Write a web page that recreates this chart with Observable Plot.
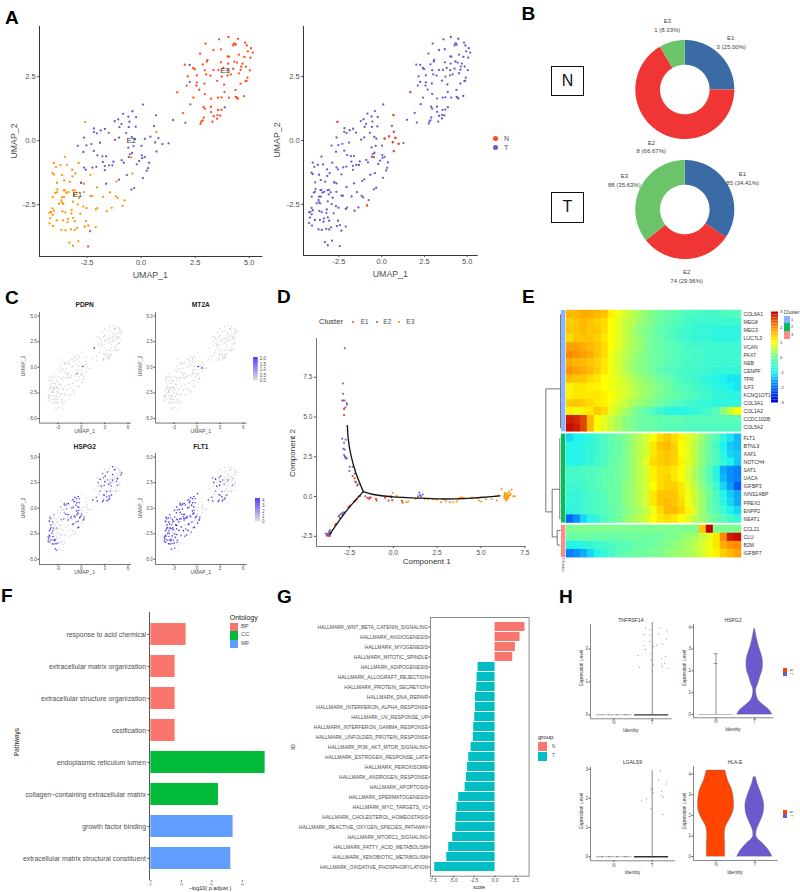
<!DOCTYPE html>
<html><head><meta charset="utf-8">
<script src="https://cdn.jsdelivr.net/npm/d3@7"></script>
<script src="https://cdn.jsdelivr.net/npm/@observablehq/plot@0.6"></script>
<style>
html,body{margin:0;padding:0;background:#fff}
#page{position:relative;width:800px;height:892px;overflow:hidden;font-family:"Liberation Sans",Arial,sans-serif}
.t{position:absolute;white-space:nowrap;line-height:1}
</style></head><body><div id="page"></div>
<script>
// ---------- DATA ----------
const umapE3=[[4.04,4.05],[4.48,3.98],[3.61,3.96],[2.98,3.79],[4.81,3.83],[4.89,3.72],[4.29,3.79],[4.35,3.79],[4.26,3.72],[4.38,3.75],[5.09,3.61],[4.94,3.49],[5.17,3.44],[3.35,3.54],[3.69,3.57],[2.73,3.40],[4.52,3.36],[4.78,3.27],[4.01,3.29],[4.07,3.28],[5.06,3.24],[3.07,3.15],[3.04,3.09],[2.85,2.98],[2.02,2.97],[2.41,2.84],[2.48,2.79],[3.69,3.06],[4.03,3.01],[4.31,3.09],[4.44,3.05],[4.69,3.01],[3.35,2.76],[2.95,2.75],[3.58,2.76],[3.80,2.84],[4.00,2.75],[4.26,2.81],[4.63,2.89],[4.60,2.77],[4.85,2.89],[5.03,2.75],[2.16,2.51],[2.58,2.55],[3.01,2.59],[3.21,2.54],[3.73,2.50],[4.00,2.55],[4.15,2.59],[4.52,2.63],[4.92,2.46],[4.88,2.34],[3.52,2.34],[2.58,2.27],[2.11,2.15],[2.56,2.15],[2.69,1.99],[2.93,2.23],[3.84,2.19],[4.60,2.23],[4.83,2.32],[1.67,1.89],[3.86,1.90],[4.37,1.98],[4.77,1.74],[2.42,1.68],[2.95,1.82],[3.56,1.68],[3.72,1.69],[4.06,1.68],[4.38,1.71],[4.43,1.68],[4.48,1.64],[3.24,1.64],[2.89,1.32],[3.23,1.32],[2.95,1.25],[3.56,1.20],[3.72,1.21],[3.24,1.12],[3.36,0.96],[3.53,1.00],[3.66,0.98],[1.93,1.08],[2.90,0.90],[2.85,0.79],[2.78,0.74],[2.75,0.66],[3.30,0.74],[3.52,0.86],[-2.36,-3.53],[-2.45,-4.13]];
const umapE2=[[2.25,2.96],[2.25,2.29],[2.28,1.42],[3.87,1.30],[2.05,0.70],[1.48,0.81],[0.09,1.41],[-0.40,1.15],[-0.83,1.05],[-0.59,0.94],[-0.23,0.92],[-1.06,0.83],[-1.22,0.76],[-0.91,0.65],[-0.54,0.74],[-0.57,0.53],[-1.00,0.53],[-0.25,0.55],[0.60,0.57],[0.69,0.99],[-2.18,0.48],[-2.19,0.34],[-2.05,0.29],[-1.87,0.40],[-1.67,0.46],[-1.50,0.31],[-0.69,0.30],[-2.64,0.12],[-1.02,0.12],[-1.20,0.03],[-0.43,0.14],[-0.31,0.07],[0.43,0.16],[0.17,0.07],[0.80,0.10],[0.65,-0.07],[1.27,-0.10],[0.99,-0.13],[-2.30,-0.13],[-2.53,-0.18],[-2.93,-0.20],[-1.90,-0.08],[-0.59,-0.27],[0.02,-0.20],[-2.67,-0.44],[-2.19,-0.40],[-2.02,-0.57],[-1.79,-0.61],[-1.62,-0.61],[-0.35,-0.21],[-0.42,-0.48],[-0.52,-0.53],[-0.57,-0.64],[0.03,-0.57],[0.17,-0.64],[0.05,-0.68],[0.71,-0.42],[-0.09,-0.79],[-0.20,-0.92],[0.37,-0.86],[-0.90,-0.76],[-0.80,-0.86],[-1.28,-0.82],[-1.77,-0.83],[-1.33,-0.96],[-1.48,-0.96],[-2.07,-1.02],[-1.68,-0.99],[-1.68,-1.15],[-2.25,-1.05],[-2.64,-1.05],[-2.56,-1.13],[0.32,-1.07],[0.26,-1.17],[-0.66,-1.34],[-1.02,-1.52],[0.08,-1.46],[-2.78,-1.65],[-1.62,-1.68],[-0.32,-1.85],[-0.45,-1.91]];
const umapE1=[[-2.59,0.73],[0.71,0.34],[-3.52,-0.63],[-4.03,-0.87],[-3.73,-0.95],[-3.43,-0.94],[-2.89,-0.87],[-3.94,-1.03],[-3.19,-1.13],[-4.10,-1.26],[-4.03,-1.32],[-3.66,-1.34],[-3.04,-1.28],[-3.18,-1.39],[-2.35,-1.33],[-3.56,-1.55],[-3.89,-1.64],[-3.30,-1.61],[-2.76,-1.63],[-2.64,-1.68],[-0.46,-0.65],[-0.40,-1.28],[-1.14,-1.59],[-2.05,-1.82],[-3.87,-1.90],[-3.58,-1.94],[-3.97,-2.04],[-3.90,-2.01],[-3.52,-1.94],[-3.16,-1.94],[-3.07,-1.94],[-3.36,-2.01],[-2.65,-2.01],[-3.46,-2.04],[-3.10,-2.11],[-2.98,-2.03],[-4.09,-2.20],[-3.66,-2.20],[-3.56,-2.20],[-2.35,-2.16],[-2.27,-2.16],[-1.76,-2.19],[-1.44,-2.02],[-1.17,-2.17],[-1.08,-2.23],[-0.76,-2.33],[-3.69,-2.33],[-3.80,-2.46],[-3.66,-2.42],[-3.60,-2.46],[-2.87,-2.24],[-2.92,-2.49],[-3.15,-2.38],[-2.67,-2.57],[-2.52,-2.63],[-2.10,-2.68],[-2.02,-2.63],[-1.36,-2.62],[-1.59,-2.75],[-0.86,-2.54],[-4.10,-2.64],[-4.17,-2.79],[-4.24,-2.81],[-4.03,-2.73],[-3.64,-2.76],[-3.50,-2.80],[-3.21,-2.70],[-3.23,-2.84],[-2.81,-2.85],[-4.09,-2.89],[-4.20,-3.02],[-3.90,-3.11],[-3.61,-3.11],[-3.38,-3.05],[-3.15,-3.01],[-4.24,-3.23],[-4.07,-3.33],[-3.40,-3.18],[-3.07,-3.14],[-2.55,-3.14],[-3.69,-3.48],[-3.50,-3.50],[-3.24,-3.46],[-2.96,-3.40],[-3.07,-3.48],[-2.61,-3.35],[-2.44,-3.31],[-2.10,-3.37],[-3.32,-3.98],[-2.90,-3.92],[-3.15,-4.10]];
const umapNormal=[[1.67,1.89],[-2.59,0.73],[0.69,0.99],[0.17,0.07],[0.43,0.16],[0.71,0.34],[0.80,0.10],[0.65,-0.07],[0.99,-0.13],[0.71,-0.42],[-0.46,-0.65],[-0.86,-2.54]];
const clusterCentres=[["E1",-2.95,-2.11],["E2",-0.45,0],["E3",3.89,2.75]];

const donutColors=["#3a6ba5","#f03535","#6cc46a"];
const donutNames=["E1","E2","E3"];
const donutN=[3,8,1];
const donutT=[85,74,88];

const exprPDPN=[[1.67,1.89,2],[0.17,0.07,1.7],[-0.57,-0.64,0.8]];
const exprMT2A=[[0.17,0.07,2],[0.65,-0.07,2]];
const exprHSPG2=[[-4.03,-0.87,2],[-3.94,-1.03,2],[-3.52,-0.63,1],[-4.10,-1.26,3],[-3.66,-1.34,2],[-3.89,-1.64,3],[-3.87,-1.9,2],[-3.97,-2.04,3],[-3.58,-1.94,2],[-4.09,-2.2,3],[-3.66,-2.2,2],[-3.8,-2.46,2],[-4.1,-2.64,3],[-4.24,-2.81,3],[-4.03,-2.73,2],[-3.64,-2.76,3],[-4.2,-3.02,2],[-3.9,-3.11,3],[-3.61,-3.11,2],[-3.38,-3.05,3],[-4.24,-3.23,3],[-4.07,-3.33,2],[-3.4,-3.18,3],[-3.69,-3.48,3],[-3.5,-3.5,2],[-3.24,-3.46,3],[-2.96,-3.4,2],[-3.15,-4.10,2],[-3.32,-3.98,3],[-3.15,-1.94,1],[-2.18,0.48,2],[-2.05,0.29,2],[-1.87,0.4,2],[-1.67,0.46,3],[-2.19,0.34,2],[-2.64,0.12,1],[-1.06,0.83,3],[-0.83,1.05,3],[-0.59,0.94,2],[-0.4,1.15,3],[-0.23,0.92,2],[-0.91,0.65,3],[-0.57,0.53,3],[-0.25,0.55,2],[-0.69,0.3,2],[-0.43,0.14,3],[-1.02,0.12,2],[-1.2,0.03,3],[-0.31,0.07,2],[-0.59,-0.27,3],[-0.35,-0.21,2],[-1.9,-0.08,2],[-2.19,-0.4,1],[-2.02,-0.57,3],[-1.79,-0.61,2],[-1.62,-0.61,2],[-0.42,-0.48,3],[-0.57,-0.64,3],[-0.9,-0.76,3],[-1.28,-0.82,2],[-0.8,-0.86,3],[0.03,-0.57,2],[-0.09,-0.79,3],[-0.2,-0.92,3],[0.37,-0.86,2],[0.32,-1.07,3],[0.26,-1.17,2],[-0.66,-1.34,2],[-1.02,-1.52,3],[-1.33,-0.96,2],[-1.68,-1.15,3],[-2.25,-1.05,2],[-2.56,-1.13,2],[-0.32,-1.85,2],[-0.45,-1.91,3],[-0.4,-1.28,3],[-1.14,-1.59,2],[1.48,0.81,3],[2.05,0.7,3],[1.93,1.08,2],[2.75,0.66,3],[2.85,0.79,2],[3.3,0.74,3],[3.52,0.86,3],[3.66,0.98,2],[2.89,1.32,3],[3.24,1.12,2],[3.56,1.2,3],[2.95,1.25,2],[3.87,1.3,3],[2.42,1.68,2],[3.24,1.64,3],[3.72,1.69,2],[2.56,2.15,3],[2.93,2.23,2],[3.52,2.34,3],[3.84,2.19,2],[2.16,2.51,2],[3.01,2.59,3],[3.73,2.5,2],[2.41,2.84,3],[3.35,2.76,2],[4.0,2.75,3],[2.85,2.98,2],[3.07,3.15,3],[4.01,3.29,3],[3.35,3.54,3],[4.29,3.79,3],[2.73,3.4,2],[4.04,4.05,3],[5.17,3.44,3],[5.06,3.24,2],[4.63,2.89,3],[4.52,2.63,2],[4.6,2.23,2]];
const exprFLT1=[[-3.52,-0.63,2],[-4.03,-0.87,3],[-3.73,-0.95,3],[-3.43,-0.94,2],[-2.89,-0.87,2],[-3.94,-1.03,3],[-3.19,-1.13,3],[-4.1,-1.26,3],[-4.03,-1.32,2],[-3.66,-1.34,3],[-3.04,-1.28,3],[-3.18,-1.39,2],[-2.35,-1.33,3],[-3.56,-1.55,3],[-3.89,-1.64,3],[-3.3,-1.61,2],[-2.76,-1.63,3],[-2.64,-1.68,3],[-2.05,-1.82,3],[-3.87,-1.9,3],[-3.58,-1.94,2],[-3.97,-2.04,3],[-3.52,-1.94,3],[-3.16,-1.94,3],[-3.36,-2.01,2],[-2.65,-2.01,3],[-3.1,-2.11,3],[-4.09,-2.2,3],[-3.66,-2.2,2],[-2.35,-2.16,3],[-1.76,-2.19,3],[-1.44,-2.02,2],[-1.17,-2.17,3],[-0.76,-2.33,2],[-3.8,-2.46,3],[-3.6,-2.46,2],[-2.92,-2.49,3],[-2.67,-2.57,3],[-2.1,-2.68,2],[-1.36,-2.62,3],[-1.59,-2.75,2],[-4.1,-2.64,3],[-4.24,-2.81,3],[-4.03,-2.73,3],[-3.64,-2.76,2],[-3.21,-2.7,3],[-2.81,-2.85,3],[-4.2,-3.02,3],[-3.9,-3.11,3],[-3.61,-3.11,2],[-3.38,-3.05,3],[-4.24,-3.23,3],[-4.07,-3.33,3],[-3.4,-3.18,3],[-3.07,-3.14,2],[-2.55,-3.14,3],[-3.69,-3.48,3],[-3.5,-3.5,3],[-3.24,-3.46,2],[-2.96,-3.4,3],[-2.61,-3.35,2],[-3.32,-3.98,3],[-2.9,-3.92,2],[-2.18,0.48,3],[-2.19,0.34,3],[-2.05,0.29,2],[-1.87,0.4,3],[-1.67,0.46,3],[-1.5,0.31,2],[-2.64,0.12,3],[-2.3,-0.13,3],[-2.53,-0.18,2],[-2.93,-0.2,3],[-1.9,-0.08,3],[-2.67,-0.44,3],[-2.19,-0.4,3],[-2.02,-0.57,2],[-1.79,-0.61,3],[-1.62,-0.61,3],[-1.77,-0.83,2],[-2.07,-1.02,3],[-1.68,-0.99,3],[-1.68,-1.15,3],[-2.25,-1.05,3],[-2.64,-1.05,2],[-2.56,-1.13,3],[-1.33,-0.96,3],[-1.48,-0.96,2],[-1.28,-0.82,3],[-1.2,0.03,3],[-1.02,0.12,2],[-0.69,0.3,3],[-1.0,0.53,3],[-1.06,0.83,3],[-1.22,0.76,2],[-0.83,1.05,3],[-0.59,0.94,3],[-0.4,1.15,3],[0.09,1.41,3],[-0.23,0.92,2],[-0.91,0.65,3],[-0.57,0.53,3],[-0.25,0.55,2],[-0.43,0.14,3],[-0.59,-0.27,3],[-0.35,-0.21,2],[-0.42,-0.48,3],[-0.52,-0.53,3],[-0.9,-0.76,3],[-0.8,-0.86,2],[-0.09,-0.79,3],[-0.2,-0.92,3],[0.37,-0.86,3],[0.32,-1.07,2],[0.26,-1.17,3],[-0.66,-1.34,3],[-1.02,-1.52,3],[0.08,-1.46,3],[-0.32,-1.85,2],[-0.45,-1.91,3],[-1.14,-1.59,3],[1.48,0.81,3],[2.05,0.7,3],[1.93,1.08,3],[2.75,0.66,3],[2.85,0.79,2],[3.3,0.74,3],[3.52,0.86,2],[3.66,0.98,3],[2.89,1.32,3],[3.24,1.12,3],[2.95,1.25,2],[3.87,1.3,3],[2.42,1.68,2],[3.24,1.64,2],[2.56,2.15,3],[2.93,2.23,3],[3.52,2.34,2],[2.16,2.51,3],[3.01,2.59,3],[2.41,2.84,3],[2.85,2.98,2],[3.07,3.15,3],[2.02,2.97,2],[3.35,2.76,2],[4.6,2.23,2],[4.0,2.75,2]];

const ddrmE2=[[-2.77,9.33],[-2.87,7.11],[-2.87,6.46],[-2.92,6.04],[-2.85,6.04],[-2.66,5.89],[-2.64,5.77],[-2.74,5.60],[-2.62,4.44],[-2.91,3.63],[-2.72,3.58],[-2.81,3.38],[-2.85,3.00],[-2.77,2.96],[-2.81,2.62],[-2.77,2.54],[-2.72,2.45],[-2.66,2.41],[-2.70,2.37],[-2.75,2.47],[-2.49,1.87],[-2.32,1.87],[-2.51,1.61],[-2.2,1.43],[-2.13,0.90],[-2.03,0.78],[-1.6,0.02],[-1.37,-0.06],[1.48,0.25],[1.52,0.10],[1.67,0.13],[1.42,0.02],[1.58,0.02],[-0.13,0.02],[-0.11,-0.04],[-2.85,-1.01],[-2.92,-1.05],[-3.0,-1.11],[-3.08,-1.19],[-3.13,-1.24],[-2.79,-0.99],[-3.61,-2.10],[-3.66,-2.20],[-3.86,-2.33],[-3.78,-2.35],[-3.7,-2.31],[-3.65,-2.41],[-3.74,-2.46],[-3.57,-2.31]];
const ddrmE1=[[-2.79,6.04],[-2.81,5.51],[-2.81,5.12],[-2.32,1.28],[-2.2,1.15],[-2.17,0.94],[-2.05,0.69],[-1.9,0.04],[-1.48,-0.08],[-1.37,-0.15],[-1.29,-0.06],[-0.99,-0.15],[-0.95,-0.25],[-0.47,-0.08],[-0.28,-0.25],[-0.06,-0.23],[0.49,-0.27],[0.53,-0.38],[-3.61,-2.35],[-3.68,-2.41],[-3.65,-2.49],[-3.8,-2.45],[-3.57,-2.29],[-3.72,-2.37],[-3.61,-2.45],[-3.27,-1.72],[-3.32,-1.78],[-3.04,-1.34],[-2.9,-1.15],[-2.56,-0.67],[-2.47,-0.57],[-2.24,-0.31],[-2.17,-0.27],[-2.09,-0.19],[-1.94,0.02]];
const ddrmE3=[[-0.04,0.23],[0.19,0.04],[0.85,-0.31],[0.76,-0.36],[1.27,-0.15],[1.42,-0.04],[1.8,-0.15],[1.99,-0.15],[2.28,-0.19],[2.47,-0.19],[2.72,-0.36],[2.85,-0.19],[2.98,-0.29],[3.23,-0.36],[3.42,-0.36],[3.61,-0.31],[3.7,-0.15],[3.8,-0.08],[3.89,-0.04],[3.99,-0.08],[4.08,-0.1],[4.46,-0.06],[4.56,-0.08],[4.75,-0.08],[4.88,-0.25],[5.0,-0.31],[5.28,-0.15],[5.6,-0.15],[5.85,0.02],[5.91,-0.25],[5.98,0.06],[6.17,0.48],[6.74,0.44],[6.61,0.34],[6.31,0.02],[6.38,0.1],[6.46,0.17],[6.53,0.23],[6.61,0.06],[6.32,-0.1],[6.42,-0.15],[6.5,-0.04],[6.57,-0.06],[6.65,0.1],[6.36,0.23],[6.84,0.02],[6.93,0.02],[6.69,0.17],[6.46,0.02],[6.38,-0.06],[6.34,0.15],[6.53,0.06],[6.51,-0.15],[6.42,-0.25]];
const trunkUp=[[-2.62,4.44],[-2.56,3.52],[-2.41,2.58],[-2.18,1.64],[-1.9,0.8],[-1.71,0.31]];
const trunkRight=[[-1.71,0.31],[-1.14,0.13],[0,-0.02],[1.14,-0.08],[2.66,-0.15],[3.99,-0.13],[4.94,-0.06],[6.08,0.04]];
const trunkDown=[[-1.71,0.31],[-2.66,-0.88],[-3.61,-2.35]];

const geneNames=["COL6A1","MEG8","MEG3","LUC7L3","VCAN","PAX7","NEB","CENPF","TPR","ILF3","KCNQ1OT1","COL3A1","COL1A2","CCDC102B","COL5A2","FLT1","BTNL9","XAF1","NOTCH4","SAT1","UACA","IGFBP3","IVNS1ABP","PREX2","ENPP2","NEAT1","CCL21","CLU","B2M","IGFBP7"];
const geneBlocks=[15,11,4];
const heatRows=[
[1.6,1.6,1.7,1.7,1.6,1.5,1.1,.9,.7,.5,.4,.2,.1,0,-.1,-.2,-.3,-.4,-.4,-.5,-.5,-.5,-.4,-.4,-.3],
[1.4,1.5,1.6,1.5,1.4,1.3,1.0,.8,.6,.5,.3,.2,.1,-.1,-.2,-.3,-.4,-.5,-.6,-.6,-.6,-.6,-.6,-.6,-.6],
[1.5,1.5,1.6,1.5,1.5,1.3,1.0,.8,.6,.4,.2,.1,0,-.2,-.3,-.4,-.5,-.6,-.7,-.7,-.7,-.8,-.8,-.8,-.8],
[1.3,1.5,1.5,1.5,1.4,1.2,1,.8,.6,.4,.3,.1,0,-.1,-.3,-.4,-.5,-.6,-.7,-.7,-.7,-.8,-.8,-.8,-.8],
[1.8,1.8,1.7,1.6,1.5,1.3,1,.8,.6,.4,.3,.1,0,-.1,-.2,-.3,-.4,-.5,-.5,-.6,-.6,-.6,-.6,-.6,-.6],
[2,1.9,1.8,1.7,1.5,1.3,.9,.7,.5,.4,.2,.1,0,-.1,-.2,-.3,-.4,-.4,-.5,-.5,-.6,-.6,-.6,-.6,-.6],
[1.7,1.6,1.6,1.5,1.4,1.2,.9,.7,.5,.3,.2,.1,0,-.1,-.2,-.3,-.4,-.5,-.5,-.5,-.6,-.6,-.6,-.6,-.6],
[1.9,1.8,1.7,1.6,1.4,1.2,.9,.7,.5,.3,.2,.1,0,-.2,-.3,-.4,-.5,-.5,-.6,-.6,-.6,-.7,-.7,-.7,-.7],
[1.6,1.5,1.5,1.3,1.2,1,.9,.8,.6,.5,.3,.2,.1,0,-.1,-.3,-.4,-.5,-.6,-.7,-.8,-.9,-1,-1.1,-1.1],
[1.1,1.2,1.2,1.1,1.1,1,.9,.8,.7,.5,.4,.3,.2,.1,0,-.2,-.3,-.4,-.5,-.6,-.7,-.8,-.9,-1,-1.1],
[1.1,1.2,1.2,1.2,1.2,1.1,1,.8,.7,.6,.4,.3,.2,.1,0,-.1,-.2,-.3,-.4,-.5,-.6,-.7,-.7,-.8,-.8],
[1.4,1.5,1.4,1.3,1.2,1.1,.9,.7,.6,.4,.3,.2,.1,0,-.2,-.3,-.4,-.5,-.6,-.7,-.7,-.8,-.8,-.8,-.8],
[1.1,.9,1.1,1.2,1.5,1.3,.8,.6,.4,.2,0,-.2,-.4,-.6,-.8,-.9,-.9,-.8,-.7,-.6,-.5,-.3,.2,.6,1],
[2.8,2.7,2.5,1.6,1,.8,.6,.4,.2,.1,0,-.1,-.1,-.2,-.2,-.2,-.2,-.3,-.3,-.3,-.3,-.3,-.3,-.3,-.3],
[2.9,2.8,2.5,1.6,1,.8,.6,.4,.2,.1,0,-.1,-.1,-.2,-.3,-.3,-.3,-.4,-.4,-.4,-.4,-.4,-.4,-.4,-.4],
[-1.2,-1,-.9,-.8,-.6,-.4,-.2,0,.1,.3,.5,.7,1,1.3,1.5,1.3,1.1,.8,.6,.3,0,-.3,-.7,-1.1,-1.4],
[-.9,-.9,-.8,-.7,-.6,-.4,-.2,-.1,.1,.3,.5,.7,1.2,1.5,1.6,1.4,1,.8,.5,.2,-.1,-.5,-1,-1.3,-1.4],
[-.9,-.9,-.8,-.7,-.6,-.4,-.2,-.1,.1,.3,.5,.7,1.2,1.4,1.5,1.4,1,.8,.5,.2,-.1,-.4,-.8,-1.2,-1.3],
[-.9,-.9,-.8,-.7,-.5,-.4,-.2,0,.1,.3,.5,.8,1.3,1.4,1.5,1.4,1.1,.8,.5,.2,-.1,-.4,-.7,-1,-1.3],
[-.5,-.5,-.4,-.4,-.3,-.2,-.1,0,.1,.3,.5,.7,1.1,1.3,1.3,1.2,1,.7,.4,.1,-.3,-.9,-1.5,-1.7,-1.8],
[-.5,-.5,-.5,-.4,-.3,-.2,-.1,0,.1,.3,.5,.7,1.1,1.3,1.4,1.2,1,.7,.4,.1,-.3,-.8,-1.4,-1.7,-1.8],
[-.6,-.6,-.5,-.4,-.3,-.2,-.1,0,.2,.3,.5,.7,1,1.3,1.4,1.4,1.2,.8,.5,.2,-.1,-.6,-1.2,-1.6,-2.1],
[-.7,-.7,-.6,-.5,-.4,-.3,-.1,0,.2,.3,.5,.7,1.2,1.5,1.5,1.5,1.2,.9,.6,.3,0,-.4,-.9,-1.3,-1.5],
[-.7,-.7,-.6,-.5,-.4,-.3,-.1,0,.2,.3,.5,.7,1.2,1.5,1.6,1.5,1.3,.9,.6,.3,0,-.4,-.8,-1.2,-1.5],
[-.8,-.7,-.6,-.5,-.4,-.3,-.2,0,.1,.3,.4,.6,.9,1.3,1.6,1.6,1.4,1.1,.7,.3,0,-.3,-.6,-1,-1.2],
[-2,-1.7,-1.2,-.9,-.7,-.4,-.2,0,.2,.4,.5,.7,1,1.2,1.3,1.2,1,.8,.5,.3,.1,-.1,-.3,-.5,-.7],
[.1,.1,.1,.1,.1,.1,.1,.1,.1,.1,.1,.1,.1,.1,.1,.1,.1,.1,.1,1.5,3,.1,.1,.1,.1],
[-.1,-.1,-.1,-.1,-.1,-.1,-.1,-.1,0,0,0,0,0,0,.1,.1,.2,.3,.4,.6,.8,1.2,2,2.8,2.9],
[-.9,-.9,-.8,-.7,-.6,-.5,-.4,-.3,-.3,-.2,-.1,-.1,0,.1,.1,.2,.3,.4,.5,.7,.9,1.2,1.7,1.9,2],
[-1.8,-1.7,-1.5,-1.2,-.9,-.7,-.5,-.3,-.2,-.1,0,0,.1,.1,.2,.3,.3,.4,.5,.7,.9,1.1,1.4,1.6,1.8]];
const heatDomain=[-3,-2,-1,0,1,2,3];
const heatRange=["#0000c8","#0064ff","#1cf4f0","#70ffa0","#ffff00","#ff8a00","#c00000"];
const clusterColors=["#8ab4ff","#00c05a","#f88f85"];
// dendrogram links: [height1,row1,height2,row2]
const dendroLinks=[[15.7,9.69,15.7,24.9],[15.7,9.69,1,9.69],[15.7,24.9,9.33,24.9],[9.33,22.1,9.33,28],[9.33,22.1,1.7,22.1],[9.33,28,4.3,28],[4.3,27.2,4.3,29],[4.3,27.2,1,27.2],[4.3,29,1.5,29],[1,0.5,1,14.5],[1.7,15.8,1.7,25.8]];

const pathways=["response to acid chemical","extracellular matrix organization","extracellular structure organization","ossification","endoplasmic reticulum lumen","collagen\u2212containing extracellular matrix","growth factor binding","extracellular matrix structural constituent"];
const pathwayLog=[2.31,1.59,1.59,1.59,7.49,4.43,5.39,5.24];
const pathwayOnt=["BP","BP","BP","BP","CC","CC","MF","MF"];
const ontologyColors={BP:"#F8766D",CC:"#00BA38",MF:"#619CFF"};

const hallmarkIds=["WNT_BETA_CATENIN_SIGNALING","ANGIOGENESIS","MYOGENESIS","MITOTIC_SPINDLE","ADIPOGENESIS","ALLOGRAFT_REJECTION","PROTEIN_SECRETION","DNA_REPAIR","INTERFERON_ALPHA_RESPONSE","UV_RESPONSE_UP","INTERFERON_GAMMA_RESPONSE","UNFOLDED_PROTEIN_RESPONSE","PI3K_AKT_MTOR_SIGNALING","ESTROGEN_RESPONSE_LATE","PEROXISOME","ANDROGEN_RESPONSE","APOPTOSIS","SPERMATOGENESIS","MYC_TARGETS_V1","CHOLESTEROL_HOMEOSTASIS","REACTIVE_OXYGEN_SPECIES_PATHWAY","MTORC1_SIGNALING","FATTY_ACID_METABOLISM","XENOBIOTIC_METABOLISM","OXIDATIVE_PHOSPHORYLATION"].map(s=>"HALLMARK_"+s);
const hallmarkScore=[3.61,3.01,2.45,2.13,-2.05,-2.17,-2.21,-2.37,-2.37,-2.45,-2.57,-2.61,-2.89,-3.17,-3.33,-3.45,-3.61,-4.38,-4.58,-4.70,-4.74,-5.10,-5.58,-5.82,-7.27];

// jittered cells: [identity position, expression level]
const tnfrsf14T=[[-.18,2.63],[-.06,2.58],[.2,2.63],[.38,2.55],[-.22,2.43],[-.06,2.42],[.17,2.45],[-.07,2.23],[.12,2.12],[-.2,2.1],[.04,2.07],[.27,2.15],[.37,2.28],[-.17,1.98],[-.04,1.85],[-.37,1.8],[.34,1.78],[.25,1.72],[-.03,1.67],[-.33,1.44],[.04,1.52],[.25,1.54],[.32,1.55],[.26,1.46],[.39,1.41]];
const lgals9T=[[.22,2.93],[.17,2.64],[.37,2.56],[.38,2.49],[.01,2.34],[-.03,2.3],[.24,2.24],[.03,2.19],[.25,2.08],[.3,2.03],[-.28,1.91],[-.15,1.98],[-.03,1.66],[.28,1.45]];
const zeroJitterN=[-.4,-.33,-.3,-.15,-.12,-.05,.07,.1,.27,.3,.36];
// violin profiles: [expression level, half width]
const hspg2ViolinT=[[0,.45],[.18,.39],[.41,.24],[.64,.10],[.87,.05],[1.18,.04],[1.4,.09],[1.71,.14],[2.02,.2],[2.47,.21],[2.78,.17],[3.16,.10],[3.54,.05],[3.92,.01]];
const hlaeViolinN=[[0,.235],[.61,.235],[.94,.226],[1.42,.25],[1.83,.365],[2.23,.45],[2.72,.46],[3.2,.42],[3.69,.31],[4.17,.24]];
const hlaeViolinT=[[0,.45],[.29,.365],[.61,.22],[.94,.05],[1.26,.05],[1.59,.12],[2.07,.22],[2.56,.24],[3.04,.17],[3.53,.07],[3.85,.03]];

// ---------- HELPERS ----------
const FONT='"Liberation Sans",Arial,sans-serif';
const ORANGE="#ff9300",SLATE="#6a5acd",RED="#ff4a12",GREYT="#4d4d4d";
const page=document.getElementById("page");
function panel([l,t,r,b],[mt,mr,mb,ml],opts){
  const svg=Plot.plot({width:r-l+ml+mr,height:b-t+mt+mb,marginTop:mt,marginRight:mr,marginBottom:mb,marginLeft:ml,
    style:{background:"transparent",overflow:"visible",fontFamily:FONT,maxWidth:"none"},...opts});
  svg.style.position="absolute";svg.style.left=(l-ml)+"px";svg.style.top=(t-mt)+"px";
  page.appendChild(svg);return svg;
}
function txt(s,x,y,{size=7,weight="normal",color=GREYT,rotate=0,anchor="middle"}={}){
  const d=document.createElement("div");d.className="t";d.textContent=s;
  const tx=anchor==="start"?"0":anchor==="end"?"-100%":"-50%";
  Object.assign(d.style,{left:x+"px",top:y+"px",fontSize:size+"px",fontWeight:weight,color,
    transform:`translate(${tx},-50%) rotate(${rotate}deg)`});
  page.appendChild(d);return d;
}
function swatch(x,y,w,h,c,radius=0){
  const d=document.createElement("div");
  Object.assign(d.style,{position:"absolute",left:x+"px",top:y+"px",width:w+"px",height:h+"px",background:c,borderRadius:radius});
  page.appendChild(d);
}
const f1=d=>d.toFixed(1), f0=d=>String(d);
function axes(xd,yd,xt,yt,{fs=7.4,ts=2,pad=1.5,padY=2,fx=f1,fy=f1,line="#333",lw=1}={}){
  return [Plot.ruleX([xd[0]],{stroke:line,strokeWidth:lw}),Plot.ruleY([yd[0]],{stroke:line,strokeWidth:lw}),
    Plot.axisX({ticks:xt,tickFormat:fx,fontSize:fs,tickSize:ts,tickPadding:pad,label:null,color:GREYT}),
    Plot.axisY({ticks:yt,tickFormat:fy,fontSize:fs,tickSize:ts,tickPadding:padY,label:null,color:GREYT})];
}
const pts=(a,fill,r=1.15)=>Plot.dot(a,{x:d=>d[0],y:d=>d[1],r,fill});

// ---------- LETTERS ----------
[["A",5,17],["B",521.5,12.5],["C",5,297],["D",277,296],["E",522,296],["F",1,595],["G",277,596],["H",559,596]]
 .forEach(([s,x,y])=>txt(s,x,y,{size:19,weight:"bold",color:"#000",anchor:"start"}));

// ---------- A ----------
{const xd=[-4.70,5.63],yd=[-4.52,4.46];
 panel([38.7,26,262,256],[2,4,22,30],{x:{domain:xd},y:{domain:yd},marks:[
  ...axes(xd,yd,[-2.5,0,2.5,5],[-2.5,0,2.5]),
  pts(umapE1,ORANGE),pts(umapE2,SLATE),pts(umapE3,RED),
  Plot.text(clusterCentres,{x:d=>d[1],y:d=>d[2],text:d=>d[0],fontSize:8,fill:"#333"})]});
 txt("UMAP_1",150.3,274.7,{size:8.8});txt("UMAP_2",14,141,{size:8.8,rotate:-90});}

// ---------- B left ----------
{const xd=[-4.57,5.64],yd=[-4.50,4.46];
 panel([303.3,26,478,255],[2,4,22,28],{x:{domain:xd},y:{domain:yd},marks:[
  ...axes(xd,yd,[-2.5,0,2.5,5],[-2.5,0,2.5]),
  pts(umapE1,SLATE),pts(umapE2,SLATE),pts(umapE3,SLATE),pts(umapNormal,RED)]});
 txt("UMAP_1",390.3,274,{size:8.8});txt("UMAP_2",277.3,140,{size:8.8,rotate:-90});
 swatch(492.5,135.8,5,5,RED,"50%");swatch(492.5,144.5,5,5,SLATE,"50%");
 txt("N",504,138.3,{size:7,anchor:"start"});txt("T",504,147,{size:7,anchor:"start"});}

// ---------- B donuts ----------
function slices(values){
  const total=d3.sum(values);let a0=0;
  return values.map((v,i)=>{
    const a1=a0+v/total*2*Math.PI,ring=[];
    for(let k=0;k<=90;k++){const a=a0+(a1-a0)*k/90;ring.push([Math.sin(a),Math.cos(a)]);}
    for(let k=90;k>=0;k--){const a=a0+(a1-a0)*k/90;ring.push([.5*Math.sin(a),.5*Math.cos(a)]);}
    ring.push(ring[0]);a0=a1;
    return {type:"Feature",properties:{name:donutNames[i],color:donutColors[i]},geometry:{type:"Polygon",coordinates:[ring]}};
  });
}
function donut(values,cy){
  panel([630,cy-55,740,cy+55],[0,0,0,0],{
    projection:d3.geoIdentity().reflectY(true).translate([54.3,55]).scale(49.5),
    marks:[Plot.geo(slices(values),{fill:d=>d.properties.color,stroke:"none"})]});
}
donut(donutN,89.3);donut(donutT,209.3);
[["E3",667.3,20.7],["1 (8.33%)",667.3,29.7],["E1",730.7,37.7],["3 (25.00%)",731.3,47],["E2",651.3,142.7],["8 (66.67%)",651.3,151],
 ["E1",742.3,173.7],["85 (34.41%)",742.7,183],["E3",624.3,176],["88 (35.63%)",624.3,185],["E2",686.7,271.7],["74 (29.96%)",686.7,280.5]]
 .forEach(([s,x,y])=>txt(s,x,y,{size:6,color:"#444"}));
[["N",65.7],["T",192]].forEach(([s,y])=>{
  const d=document.createElement("div");d.className="t";d.textContent=s;
  Object.assign(d.style,{left:"551px",top:y+"px",width:"31px",height:"28.5px",lineHeight:"28.5px",textAlign:"center",border:"1px solid #111",fontSize:"16px",color:"#111"});
  page.appendChild(d);
});

// ---------- C ----------
const umapAll=[...umapE1,...umapE2,...umapE3];
function featurePlot(name,expr,box,xd,yd,maxV){
  panel(box,[2,2,10,14],{x:{domain:xd},y:{domain:yd},
    color:{type:"linear",domain:[0,maxV],range:["#d3d3d3","#1400ff"]},marks:[
    ...axes(xd,yd,[-3,0,3,6],[-5,-2.5,0,2.5,5],{fs:4.5,ts:1.5,pad:1,padY:1.2,fx:f0,line:"#555",lw:.8}),
    Plot.dot(umapAll,{x:d=>d[0],y:d=>d[1],r:.7,fill:"#d3d3d3"}),
    Plot.dot(expr,{x:d=>d[0],y:d=>d[1],r:.8,fill:d=>d[2]})]});
  txt(name,(box[0]+box[2])/2,box[1]-6.5,{size:6.6,weight:"bold",color:"#222"});
  txt("UMAP_1",(box[0]+box[2])/2,box[3]+9.4,{size:5.2});
  txt("UMAP_2",box[0]-14.5,(box[1]+box[3])/2-1,{size:5.2,rotate:-90});
}
const cxd1=[-5.36,6.44],cxd2=[-5.39,6.52],cyd=[-5.45,5.35],cyd2=[-5.5,5.35];
featurePlot("PDPN",exprPDPN,[38.7,311.7,130.7,422.3],cxd1,cyd,2);
featurePlot("MT2A",exprMT2A,[155,311.7,246.7,422.3],cxd2,cyd,2);
featurePlot("HSPG2",exprHSPG2,[38.7,453,130.7,564],cxd1,cyd2,4);
featurePlot("FLT1",exprFLT1,[155,453,246.7,564],cxd2,cyd2,4);
function smallBar([l,t,r,b],dom,range,ticks,fmt){
  const steps=d3.range(0,40).map(i=>dom[0]+(dom[1]-dom[0])*i/40);
  panel([l,t,r,b],[1,12,1,0],{x:{domain:[0,1],axis:null},y:{domain:dom,axis:null},color:{type:"linear",domain:dom,range},marks:[
    Plot.rect(steps,{x1:0,x2:1,y1:d=>d,y2:d=>d+(dom[1]-dom[0])/40,fill:d=>d}),
    Plot.axisY({anchor:"right",ticks,tickFormat:fmt,fontSize:4.5,tickSize:0,tickPadding:1.5,label:null,color:GREYT})]});
}
smallBar([253.3,356.7,258,380],[0,2.1],["#d3d3d3","#1400ff"],[0,.5,1,1.5,2],f1);
smallBar([255,497.7,260,521],[0,4.4],["#d3d3d3","#1400ff"],[0,1,2,3,4],f0);

// ---------- D ----------
{const xd=[-4.38,7.55],yd=[-3.14,9.94];
 panel([315.7,338,525,546],[2,6,22,26],{x:{domain:xd},y:{domain:yd},marks:[
  ...axes(xd,yd,[-2.5,0,2.5,5,7.5],[-2.5,0,2.5,5,7.5],{fs:6.6,line:"#777"}),
  pts(ddrmE3,ORANGE,1),pts(ddrmE1,RED,1.1),pts(ddrmE2,SLATE,1),
  ...[trunkUp,trunkRight,trunkDown].map(a=>Plot.line(a,{x:d=>d[0],y:d=>d[1],stroke:"#111",strokeWidth:1.3,curve:"catmull-rom"}))]});
 txt("Component 1",426.7,562.3,{size:8,color:"#333"});txt("Component 2",293.3,453,{size:8,rotate:-90,color:"#333"});
 txt("Cluster",331,321.7,{size:7.5,color:"#333"});
 [[353.3,"E1",RED,364.7],[377,"E2",SLATE,387.3],[399.3,"E3",ORANGE,410.3]].forEach(([x,s,c,tx])=>{
   swatch(x-1,320.7,2,2,c,"50%");txt(s,tx,321.7,{size:6.5});});}

// ---------- E ----------
{const gap=[0,.28,.56];
 let offs=[],k=0;geneBlocks.forEach((n,b)=>{for(let i=0;i<n;i++){offs.push({row:k,y:k+gap[b],block:b});k++;}});
 const total=30.58;
 const cells=[];heatRows.forEach((row,r)=>row.forEach((v,c)=>cells.push({c,y:offs[r].y,v})));
 panel([566,310.3,741,557.7],[0,50,0,0],{x:{domain:[0,25],axis:null},y:{domain:[0,total],reverse:true,axis:null},
  color:{type:"linear",domain:heatDomain,range:heatRange},marks:[
   Plot.rect(cells,{x1:d=>d.c,x2:d=>d.c+1,y1:d=>d.y,y2:d=>d.y+1,fill:d=>d.v,inset:-.2}),
   Plot.text(offs,{x:25,y:d=>d.y+.5,text:d=>geneNames[d.row],textAnchor:"start",dx:2,fontSize:5.1,fill:"#333"})]});
 const blocks=[[0,15,0],[15.28,26.28,1],[26.56,30.56,2]];
 panel([545,310.3,565.3,557.7],[0,0,0,0],{x:{domain:[16,-4.3],axis:null},y:{domain:[0,total],reverse:true,axis:null},
  marks:[
   Plot.link(dendroLinks,{x1:d=>d[0],y1:d=>d[1],x2:d=>d[2],y2:d=>d[3],stroke:"#555",strokeWidth:.8}),
   Plot.link(offs,{x1:1,x2:0,y1:d=>d.y+.5,y2:d=>d.y+.5,stroke:"#555",strokeWidth:.6}),
   Plot.rect(blocks,{x1:0,x2:-4.3,y1:d=>d[0],y2:d=>d[1],fill:d=>clusterColors[d[2]]})]});
 txt("Cluster",562.8,565,{size:4.4,rotate:90,color:"#555"});
 const steps=d3.range(0,60).map(i=>-3+i*.1);
 panel([771.3,310.3,778.3,404.3],[0,12,0,0],{x:{domain:[0,1],axis:null},y:{domain:[-3.1,3.1],axis:null},
  color:{type:"linear",domain:heatDomain,range:heatRange},marks:[
   Plot.rect(steps,{x1:0,x2:1,y1:d=>d,y2:d=>d+.1,fill:d=>d+.05}),
   Plot.axisY({anchor:"right",ticks:heatDomain,tickFormat:d=>String(d),fontSize:4.2,tickSize:0,tickPadding:1.5,label:null,color:"#333"})]});
 txt("Cluster",783.7,312,{size:5,color:"#333",anchor:"start"});
 clusterColors.forEach((c,i)=>{swatch(783.7,315.5+i*7.9,6,7.9,c);txt(String(i+1),791,319.5+i*7.9,{size:4,color:"#333",anchor:"start"});});}

// ---------- F ----------
{const rows=pathways.map((p,i)=>({p,v:pathwayLog[i],o:pathwayOnt[i]}));
 panel([149.3,611.7,266,880],[0,8,10,140],{x:{domain:[-0.09,7.56]},
  y:{type:"band",domain:pathways,padding:.3,paddingOuter:.15,insetTop:2.57,insetBottom:2.87},
  color:{type:"identity"},marks:[
   Plot.barX(rows,{x1:0,x2:"v",y:"p",fill:d=>ontologyColors[d.o]}),
   Plot.ruleX([-0.09],{stroke:"#444",strokeWidth:.9}),
   Plot.axisY({tickSize:1.5,tickPadding:2,fontSize:6.9,label:null,color:GREYT}),
   Plot.axisX({ticks:[0,2,4,6],tickRotate:-90,tickFormat:f0,fontSize:4,tickSize:1.5,tickPadding:1,label:null,color:GREYT})]});
 txt("Pathways",16.7,742,{size:6.5,rotate:-90,color:"#222"});
 txt("\u2212log10( p.adjust )",210,888.7,{size:5.5,color:"#222"});
 txt("Ontology",229.7,616.7,{size:7,anchor:"start",color:"#222"});
 ["BP","CC","MF"].forEach((o,i)=>{swatch(230,622.7+i*8.67,7.8,8.2,ontologyColors[o]);txt(o,241,626.8+i*8.67,{size:5.8,anchor:"start"});});}

// ---------- G ----------
{const rows=hallmarkIds.map((id,i)=>({id,v:hallmarkScore[i]}));
 panel([429.7,617.3,528.3,876],[0,2,9,136],{x:{domain:[-7.78,4.1]},
  y:{type:"band",domain:hallmarkIds,padding:.1,paddingOuter:.05,insetTop:1.25,insetBottom:.15},
  color:{type:"identity"},marks:[
   Plot.barX(rows,{x1:0,x2:"v",y:"id",fill:d=>d.v>0?"#F8766D":"#00BFC4"}),
   Plot.frame({stroke:"#7f7f7f",strokeWidth:.9}),
   Plot.axisY({tickSize:1.5,tickPadding:1,fontSize:5,label:null,color:GREYT}),
   Plot.axisX({ticks:[-7.5,-5,-2.5,0,2.5],tickFormat:f1,fontSize:4.8,tickSize:1.5,tickPadding:1,label:null,color:GREYT})]});
 txt("score",479,887.3,{size:5,color:"#222"});txt("ID",294.3,746.7,{size:5.5,rotate:-90,color:"#222"});
 txt("group",538,736.7,{size:6,anchor:"start",color:"#222"});
 [["N","#F8766D",742.3],["T","#00BFC4",751.7]].forEach(([s,c,y])=>{swatch(538,y,9,9,c);txt(s,552,y+4.5,{size:4.6,anchor:"start"});});}

// ---------- H ----------
function vlnAxes(xd,yd,yt){return [
  Plot.ruleX([xd[0]],{stroke:"#555",strokeWidth:.7}),Plot.ruleY([yd[0]],{stroke:"#555",strokeWidth:.7}),
  Plot.axisX({ticks:[0,1],tickFormat:d=>d===0?"N":"T",fontSize:4.5,tickSize:1.5,tickPadding:1,label:null,color:GREYT}),
  Plot.axisY({ticks:yt,tickFormat:f0,fontSize:4.5,tickSize:1.5,tickPadding:1,label:null,color:GREYT})];}
function vlnText(name,box,ylabel){
  const cx=(box[0]+box[2])/2;
  txt(name,cx,box[1]-4.5,{size:5,color:"#333"});
  txt("Identity",cx,box[3]+12.5,{size:4.8,color:"#333"});
  txt("Expression Level",box[0]-7.7,ylabel,{size:4.8,rotate:-90,color:"#333"});
}
function sparseViolin(name,box,xd,yd,yt,cells,top,ylabel){
  panel(box,[1,1,9,7],{x:{domain:xd},y:{domain:yd},marks:[
    ...vlnAxes(xd,yd,yt),
    Plot.ruleY([0],{x1:-.46,x2:.48,stroke:"#aaa",strokeWidth:.8}),
    Plot.dot(zeroJitterN,{x:d=>d,y:0,r:.45,fill:"#333"}),
    Plot.ruleY([0],{x1:.54,x2:1.43,stroke:"#333",strokeWidth:1.4}),
    Plot.ruleX([1],{y1:0,y2:top,stroke:"#666",strokeWidth:.8}),
    Plot.dot(cells,{x:d=>1+d[0],y:d=>d[1],r:.45,fill:"#222"})]});
  vlnText(name,box,ylabel);
}
function violinArea(a,c,fill){return Plot.areaX(a,{x1:d=>c-d[1],x2:d=>c+d[1],y:d=>d[0],fill,stroke:"#666",strokeWidth:.4,curve:"catmull-rom"});}
sparseViolin("TNFRSF14",[590,624,671.7,718.3],[-.61,1.52],[-.12,2.74],[0,1,2],tnfrsf14T,2.8,668.3);
sparseViolin("LGALS9",[590,766.7,675,860],[-.61,1.61],[-.14,3.06],[0,1,2,3],lgals9T,2.95,810.7);
{const xd=[-.58,1.5],yd=[-.15,4.12],box=[692.7,624,773.3,717.3];
 panel(box,[1,1,9,7],{x:{domain:xd},y:{domain:yd},marks:[
  ...vlnAxes(xd,yd,[0,1,2,3,4]),
  Plot.ruleY([0],{x1:-.45,x2:.45,stroke:"#bbb",strokeWidth:1}),
  Plot.ruleX([0],{y1:0,y2:2.78,stroke:"#666",strokeWidth:.7}),
  Plot.ruleY([2.78,2.33],{x1:-.05,x2:.05,stroke:"#666",strokeWidth:.7}),
  violinArea(hspg2ViolinT,1,SLATE)]});
 vlnText("HSPG2",box,668.3);}
{const xd=[-.58,1.6],yd=[-.19,4.37],box=[692.7,766,777.3,860];
 panel(box,[1,1,9,7],{x:{domain:xd},y:{domain:yd},marks:[
  ...vlnAxes(xd,yd,[0,1,2,3,4]),
  violinArea(hlaeViolinN,0,"#ff4500"),violinArea(hlaeViolinT,1,SLATE)]});
 vlnText("HLA-E",box,810.7);}
[668.3,810.3].forEach(y=>{swatch(782.7,y,4,3.8,"#ff4500");swatch(782.7,y+3.8,4,3.8,SLATE);
  txt("N",789.5,y+1.9,{size:3,rotate:90,color:"#333"});txt("T",789.5,y+5.7,{size:3,rotate:90,color:"#333"});});
</script></body></html>
